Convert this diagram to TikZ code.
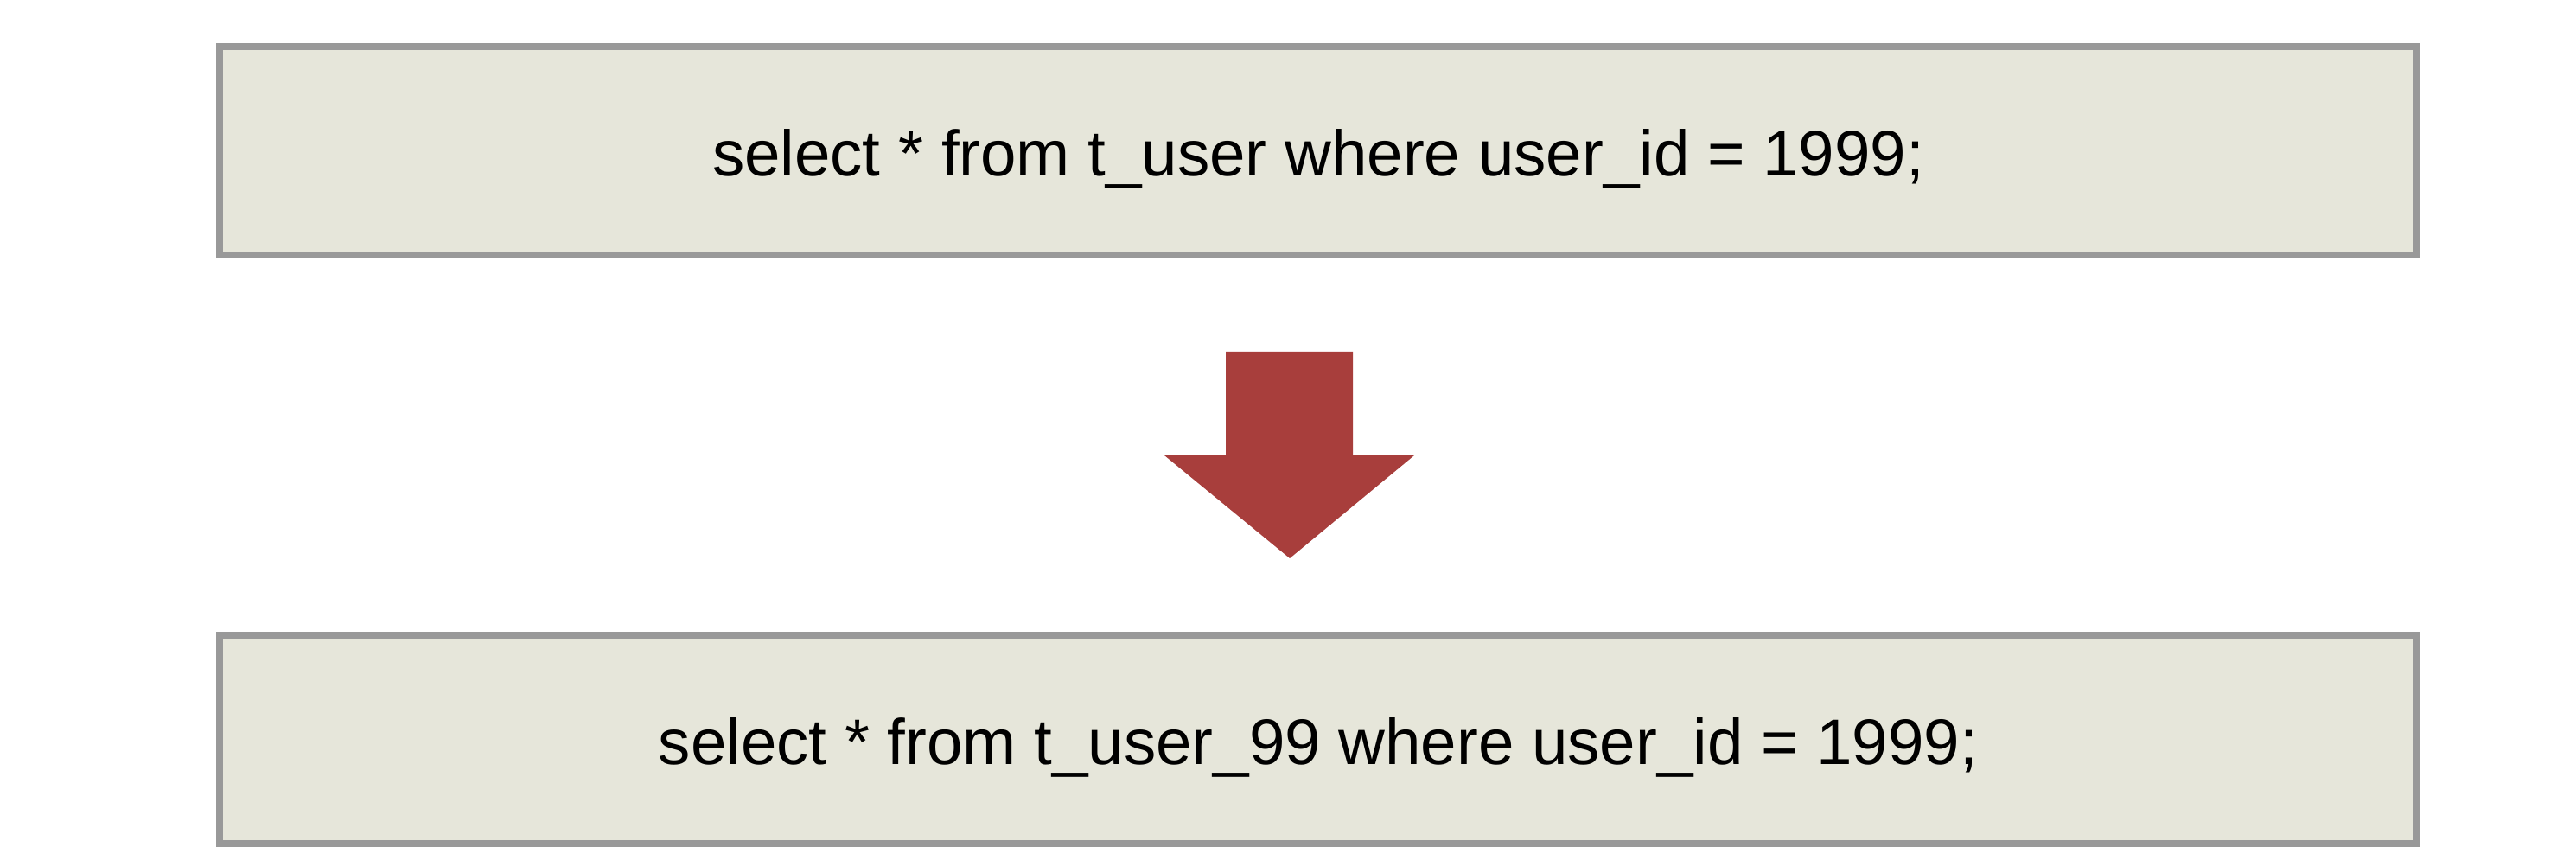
\documentclass[tikz,border=0pt]{standalone}
\usepackage{fontspec}
\setmainfont{Liberation Sans}
\begin{document}
\begin{tikzpicture}[
  sqlbox/.style={draw=black!40,line width=.08cm,fill=boxfill,minimum width=25.42cm,minimum height=2.41cm,inner sep=0pt,text height=.74cm,text depth=.155cm,font=\fontsize{21.2}{25}\selectfont},
  bigarrow/.style={fill=arrowred,draw=none}
]
\definecolor{boxfill}{HTML}{E6E6DA}
\definecolor{arrowred}{HTML}{A83E3C}
\useasboundingbox (0,0) rectangle (29.80,10.02);

% Original query and the rewritten one on the sharded table.
\node[sqlbox] (orig) at (15.25,8.275) {select * from t\_user where user\_id = 1999;};
\node[sqlbox] (routed) at (15.25,1.465) {select * from t\_user\_99 where user\_id = 1999;};

% Block arrow between the two statements.
\fill[bigarrow] (14.18,5.95) -- (15.65,5.95) -- (15.65,4.75) -- (16.36,4.75)
  -- (14.92,3.56) -- (13.47,4.75) -- (14.18,4.75) -- cycle;
\end{tikzpicture}
\end{document}
